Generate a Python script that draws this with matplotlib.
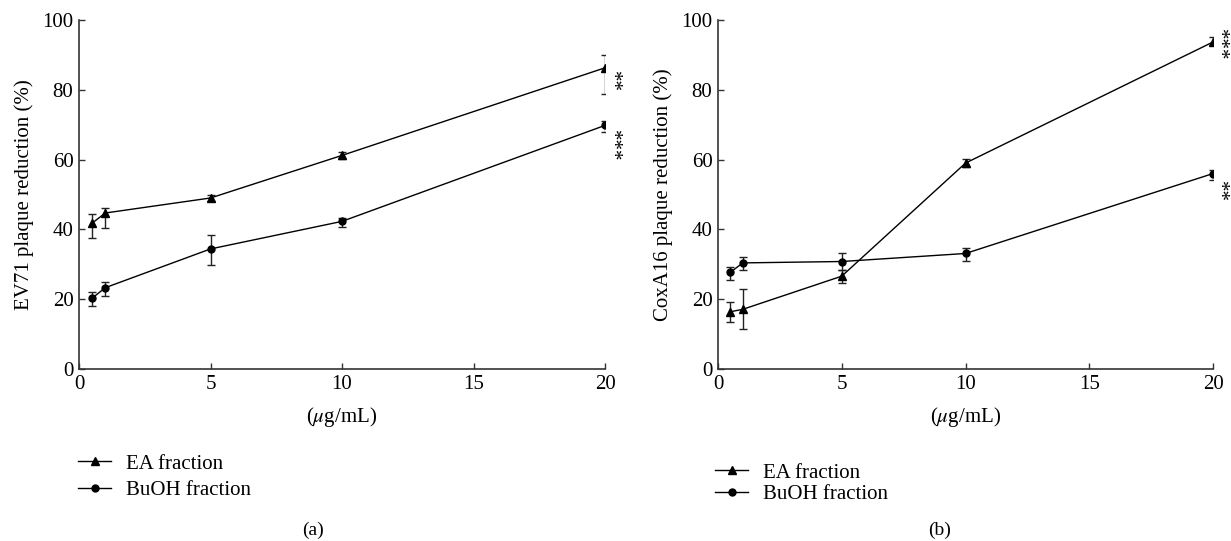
import matplotlib
matplotlib.use('Agg')
import matplotlib.pyplot as plt

plt.rcParams['font.family'] = ['Liberation Serif', 'DejaVu Serif']
plt.rcParams['mathtext.fontset'] = 'stix'

# concentrations (ug/mL)
conc = [0.5, 1, 5, 10, 20]

# (a) EV71
ev_ea = [41.8, 44.7, 49.0, 61.2, 86.3]
ev_ea_lo = [4.2, 4.2, 1.0, 1.0, 7.5]
ev_ea_hi = [2.6, 1.4, 1.0, 1.0, 3.8]
ev_bu = [20.3, 23.3, 34.4, 42.3, 69.8]
ev_bu_lo = [2.2, 2.3, 4.7, 1.7, 1.9]
ev_bu_hi = [1.7, 1.7, 4.1, 1.0, 1.2]

# (b) CoxA16
cox_ea = [16.4, 17.1, 26.6, 59.0, 93.7]
cox_ea_lo = [2.9, 5.7, 1.9, 1.1, 1.0]
cox_ea_hi = [2.9, 5.7, 1.7, 1.2, 1.3]
cox_bu = [27.7, 30.4, 30.8, 33.1, 56.0]
cox_bu_lo = [2.2, 1.9, 2.3, 2.1, 1.9]
cox_bu_hi = [1.6, 1.7, 2.3, 1.7, 0.9]

W, H = 1231, 541
FS = 15
fig = plt.figure(figsize=(W / 100, H / 100), dpi=100)


def px_axes(x0, x1, y0, y1):
    return fig.add_axes([x0 / W, 1 - y1 / H, (x1 - x0) / W, (y1 - y0) / H])


def draw_panel(ax, ea, ea_lo, ea_hi, bu, bu_lo, bu_hi, ylabel):
    for y, lo, hi in [(ea, ea_lo, ea_hi), (bu, bu_lo, bu_hi)]:
        ax.errorbar(conc, y, yerr=[lo, hi], fmt='none', ecolor='#222222',
                    elinewidth=1.0, capsize=3, capthick=1.0, zorder=2)
    h1, = ax.plot(conc, ea, '-^', color='black', lw=1.0, ms=5.5, label='EA fraction', zorder=3)
    h2, = ax.plot(conc, bu, '-o', color='black', lw=1.0, ms=5, label='BuOH fraction', zorder=3)
    ax.set_xlim(0, 20)
    ax.set_ylim(0, 100)
    ax.set_xticks([0, 5, 10, 15, 20])
    ax.set_yticks([0, 20, 40, 60, 80, 100])
    ax.spines['top'].set_visible(False)
    ax.spines['right'].set_visible(False)
    for s in ['left', 'bottom']:
        ax.spines[s].set_color('#333333')
        ax.spines[s].set_linewidth(1.2)
    ax.tick_params(direction='in', length=4, width=1, labelsize=FS, pad=4, colors='#333333',
                   labelcolor='black')
    ax.set_ylabel(ylabel, fontsize=FS, labelpad=6)
    ax.set_xlabel('($\\mu$g/mL)', fontsize=FS, labelpad=8)
    return h1, h2


ax1 = px_axes(79, 605, 20, 369)
h = draw_panel(ax1, ev_ea, ev_ea_lo, ev_ea_hi, ev_bu, ev_bu_lo, ev_bu_hi,
               'EV71 plaque reduction (%)')
ax1.text(20.25, 82.5, '**', rotation=-90, ha='center', va='center', fontsize=FS, clip_on=False)
ax1.text(20.25, 64, '***', rotation=-90, ha='center', va='center', fontsize=FS, clip_on=False)

ax2 = px_axes(718, 1213, 20, 369)
draw_panel(ax2, cox_ea, cox_ea_lo, cox_ea_hi, cox_bu, cox_bu_lo, cox_bu_hi,
           'CoxA16 plaque reduction (%)')
ax2.text(20.22, 92.8, '***', rotation=-90, ha='center', va='center', fontsize=FS, clip_on=False)
ax2.text(20.22, 51, '**', rotation=-90, ha='center', va='center', fontsize=FS, clip_on=False)

fig.legend(h, ['EA fraction', 'BuOH fraction'], loc='upper left',
           bbox_to_anchor=(78 / W, 1 - 454 / H), frameon=False, fontsize=FS,
           handlelength=1.6, handletextpad=0.7, labelspacing=0.35, borderpad=0, borderaxespad=0)
fig.legend(h, ['EA fraction', 'BuOH fraction'], loc='upper left',
           bbox_to_anchor=(715 / W, 1 - 463 / H), frameon=False, fontsize=FS,
           handlelength=1.6, handletextpad=0.7, labelspacing=0.1, borderpad=0, borderaxespad=0)

fig.text(313 / W, 1 - 530 / H, '(a)', ha='center', va='center', fontsize=14)
fig.text(940 / W, 1 - 530 / H, '(b)', ha='center', va='center', fontsize=14)

fig.savefig('out.png', dpi=100)
